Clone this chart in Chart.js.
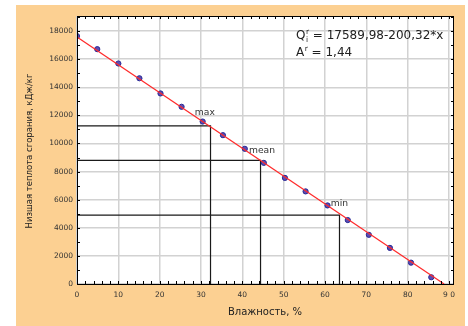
<!DOCTYPE html>
<html>
<head>
<meta charset="utf-8">
<script src="https://cdn.jsdelivr.net/npm/chart.js@4"></script>
<style>
html,body{margin:0;padding:0;background:#fff;}
#wrap{width:468px;height:326px;position:relative;}
</style>
</head>
<body>
<div id="wrap"><canvas id="c" width="468" height="326"></canvas></div>
<script>
// Measured points: moisture (%) and lower heating value (kJ/kg)
const moisture = [0, 4.9, 10, 15.1, 20.2, 25.3, 30.4, 35.3, 40.6, 45.2, 50.3, 55.3, 60.6, 65.5, 70.6, 75.7, 80.8, 85.7];
const heatValue = [17640, 16710, 15690, 14640, 13560, 12610, 11560, 10590, 9620, 8620, 7550, 6590, 5590, 4550, 3500, 2570, 1520, 480];
// Regression line end points
const fitX = [0, 88.8];
const fitY = [17570, 0];
// Reference levels: max, mean, min
const refNames = ['max', 'mean', 'min'];
const refX = [32.3, 44.4, 63.5];
const refY = [11250, 8790, 4900];
// Label anchors (data coordinates)
const refLabelX = [28.5, 41.6, 61.4];
const refLabelY = [12230, 9480, 5740];
// Axis ticks
const xTicks = [0, 10, 20, 30, 40, 50, 60, 70, 80, 90];
const yTicks = [0, 2000, 4000, 6000, 8000, 10000, 12000, 14000, 16000, 18000];
const eqLine1 = ['Q', 'r', 'i', ' = 17589,98-200,32*x'];
const eqLine2 = ['A', 'r', ' = 1,44'];
const xTitle = 'Влажность, %';
const yTitle = 'Низшая теплота сгорания, кДж/кг';

const FONT = '"DejaVu Sans", sans-serif';

const toXY = (xs, ys) => xs.map((x, i) => ({x: x, y: ys[i]}));
const refDatasets = refX.map((rx, i) => ({
  type: 'line',
  data: [{x: 0, y: refY[i]}, {x: rx, y: refY[i]}, {x: rx, y: 0}],
  borderColor: '#1a1a1a', borderWidth: 1.2, pointRadius: 0, fill: false, order: 2, tension: 0
}));

const bgPlugin = {
  id: 'bg',
  beforeDraw(chart) {
    const ctx = chart.ctx;
    ctx.save();
    ctx.fillStyle = '#fcd092';
    ctx.fillRect(16, 5, 449, 321);
    const a = chart.chartArea;
    ctx.fillStyle = '#ffffff';
    ctx.fillRect(a.left, a.top, a.right - a.left, a.bottom - a.top);
    ctx.restore();
  },
  afterDraw(chart) {
    const ctx = chart.ctx;
    const a = chart.chartArea;
    const xs = chart.scales.x, ys = chart.scales.y;
    ctx.save();
    // frame
    ctx.strokeStyle = '#000';
    ctx.lineWidth = 1;
    ctx.strokeRect(a.left + 0.5, a.top + 0.5, a.right - a.left - 1, a.bottom - a.top);
    // minor ticks
    ctx.beginPath();
    for (let v = 0; v <= xs.max; v += 2) {
      const px = Math.round(xs.getPixelForValue(v)) + 0.5;
      ctx.moveTo(px, a.bottom); ctx.lineTo(px, a.bottom - 3);
      ctx.moveTo(px, a.top); ctx.lineTo(px, a.top + 3);
    }
    for (let v = 0; v <= ys.max; v += 1000) {
      const py = Math.round(ys.getPixelForValue(v)) + 0.5;
      ctx.moveTo(a.left, py); ctx.lineTo(a.left + 3, py);
      ctx.moveTo(a.right, py); ctx.lineTo(a.right - 3, py);
    }
    ctx.stroke();
    // reference labels
    ctx.fillStyle = '#333';
    ctx.font = '9.2px ' + FONT;
    ctx.textBaseline = 'middle';
    ctx.textAlign = 'left';
    refNames.forEach((n, i) => {
      ctx.fillText(n, xs.getPixelForValue(refLabelX[i]), ys.getPixelForValue(refLabelY[i]));
    });
    // equation text
    ctx.fillStyle = '#222';
    const drawEq = (parts, x, y) => {
      ctx.textBaseline = 'alphabetic';
      ctx.font = '12px ' + FONT;
      ctx.fillText(parts[0], x, y);
      let cx = x + ctx.measureText(parts[0]).width;
      ctx.font = '7.5px ' + FONT;
      ctx.fillText(parts[1], cx + 0.5, y - 5);
      let w = ctx.measureText(parts[1]).width;
      let rest;
      if (parts.length === 4) {
        ctx.fillText(parts[2], cx + 0.5, y + 3);
        w = Math.max(w, ctx.measureText(parts[2]).width);
        rest = parts[3];
      } else {
        rest = parts[2];
      }
      cx += w + 0.5;
      ctx.font = '12px ' + FONT;
      ctx.fillText(rest, cx, y);
    };
    drawEq(eqLine1, 296, 39);
    drawEq(eqLine2, 296, 56);
    // axis titles
    ctx.fillStyle = '#222';
    ctx.font = '10px ' + FONT;
    ctx.textAlign = 'center';
    ctx.textBaseline = 'middle';
    ctx.fillText(xTitle, 265, 312);
    ctx.save();
    ctx.translate(29.5, 151);
    ctx.rotate(-Math.PI / 2);
    ctx.font = '8.5px ' + FONT;
    ctx.fillText(yTitle, 0, 0);
    ctx.restore();
    ctx.restore();
  }
};

new Chart(document.getElementById('c'), {
  type: 'scatter',
  data: {
    datasets: [
      {
        type: 'line',
        data: toXY(fitX, fitY),
        borderColor: '#ff2a2a', borderWidth: 1.2, pointRadius: 0, fill: false, order: 0
      },
      {
        type: 'scatter',
        data: toXY(moisture, heatValue),
        backgroundColor: '#5b4db3', borderColor: '#2a2a96', borderWidth: 1, pointRadius: 2.6, order: 1
      },
      ...refDatasets
    ]
  },
  options: {
    responsive: false,
    animation: false,
    devicePixelRatio: 1,
    layout: {padding: {top: 16, right: 14, bottom: 0, left: 0}},
    plugins: {legend: {display: false}, tooltip: {enabled: false}, title: {display: false}},
    scales: {
      x: {
        type: 'linear', min: 0, max: 91.2,
        afterFit(s) { s.height = 42; },
        afterBuildTicks(s) { s.ticks = xTicks.map(v => ({value: v})); },
        grid: {color: '#d2d2d2', lineWidth: 1.5, drawTicks: false},
        border: {display: false},
        ticks: {
          padding: 7, color: '#333', font: {family: FONT, size: 7.5},
          callback: v => (v === 90 ? '9 0' : String(v))
        }
      },
      y: {
        type: 'linear', min: 0, max: 19070,
        afterFit(s) { s.width = 77; },
        afterBuildTicks(s) { s.ticks = yTicks.map(v => ({value: v})); },
        grid: {color: '#d2d2d2', lineWidth: 1.5, drawTicks: false},
        border: {display: false},
        ticks: {padding: 4, color: '#333', font: {family: FONT, size: 7.5}, callback: v => String(v)}
      }
    }
  },
  plugins: [bgPlugin]
});
</script>
</body>
</html>
